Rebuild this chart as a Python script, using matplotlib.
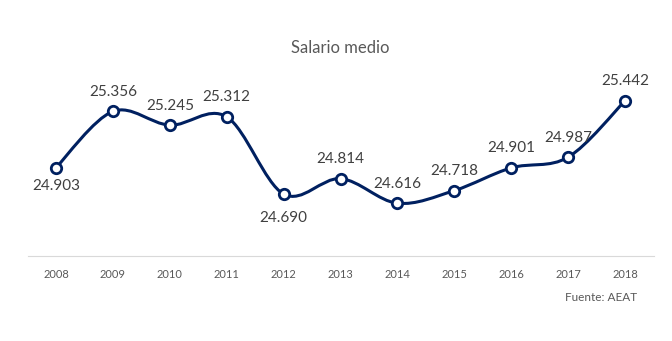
import numpy as np
import matplotlib
matplotlib.use("Agg")
import matplotlib.pyplot as plt
from matplotlib.path import Path
from matplotlib.patches import PathPatch

years = ["2008", "2009", "2010", "2011", "2012", "2013", "2014", "2015", "2016", "2017", "2018"]
salario = [24.903, 25.356, 25.245, 25.312, 24.690, 24.814, 24.616, 24.718, 24.901, 24.987, 25.442]

navy = "#002060"
grey = "#595959"
plt.rcParams["font.family"] = ["Lato", "DejaVu Sans"]

fig = plt.figure(figsize=(6.72, 3.41), dpi=100)
ax = fig.add_axes([0.041, 0.249, 0.9315, 0.575])

x = np.arange(len(years))
y = np.array(salario)

# excel-like smoothed line via cubic bezier segments
verts = [(x[0], y[0])]
codes = [Path.MOVETO]
n = len(x)
for i in range(n - 1):
    xp, yp = (x[i - 1], y[i - 1]) if i > 0 else (x[i], y[i])
    xn2, yn2 = (x[i + 2], y[i + 2]) if i + 2 < n else (x[i + 1], y[i + 1])
    c1 = (x[i] + (x[i + 1] - xp) / 6, y[i] + (y[i + 1] - yp) / 6)
    c2 = (x[i + 1] - (xn2 - x[i]) / 6, y[i + 1] - (yn2 - y[i]) / 6)
    verts += [c1, c2, (x[i + 1], y[i + 1])]
    codes += [Path.CURVE4, Path.CURVE4, Path.CURVE4]
ax.add_patch(PathPatch(Path(verts, codes), facecolor="none", edgecolor=navy, lw=2.2, capstyle="round", zorder=2))
ax.plot(x, y, "o", ms=7.5, mfc="white", mec=navy, mew=2, zorder=3)

# label offsets in points (labels below the point for 2008 and 2012)
offsets = {0: -13, 4: -17}
for i, (xi, yi) in enumerate(zip(x, y)):
    ax.annotate(f"{yi:.3f}", (xi, yi), xytext=(0, offsets.get(i, 14)), textcoords="offset points",
                ha="center", va="center", fontsize=11, color="#404040")

ax.set_xlim(-0.5, 10.5)
ax.set_ylim(24.19, 25.77)
ax.set_xticks(x)
ax.set_xticklabels(years, fontsize=8, color=grey)
ax.tick_params(axis="x", length=0, pad=9)
ax.set_yticks([])
for s in ["top", "left", "right"]:
    ax.spines[s].set_visible(False)
ax.spines["bottom"].set_color("#d9d9d9")

fig.text(0.506, 0.859, "Salario medio", ha="center", va="center", fontsize=12, color=grey)
fig.text(0.948, 0.129, "Fuente: AEAT", ha="right", va="center", fontsize=8.5, color=grey)

fig.savefig("out.png", dpi=100)
